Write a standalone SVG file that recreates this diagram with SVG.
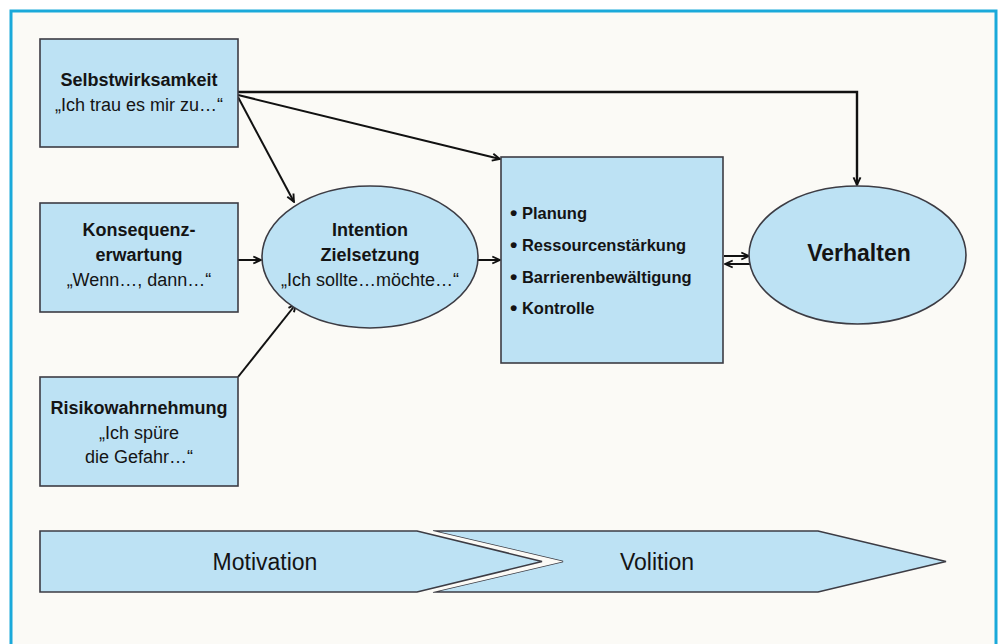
<svg xmlns="http://www.w3.org/2000/svg" width="1003" height="644" viewBox="0 0 1003 644">
<defs>
<style>
.box{fill:#bde2f4;stroke:#3c3c44;stroke-width:1.6}
.t{font-family:"Liberation Sans",Arial,sans-serif;fill:#141414;text-anchor:middle}
.b{font-weight:bold;font-size:18px}
.r{font-size:18px}
.li{font-family:"Liberation Sans",Arial,sans-serif;fill:#141414;font-weight:bold;font-size:16.5px}
.bu{font-size:21px}
.ln{fill:none;stroke:#111;stroke-width:2}
.lnt{fill:none;stroke:#111;stroke-width:2.4}
</style>
<marker id="ah" viewBox="0 0 10 10" refX="9.2" refY="5" markerWidth="10" markerHeight="10" orient="auto" markerUnits="userSpaceOnUse">
<path d="M1.5,1.5 L9,5 L1.5,8.5" fill="none" stroke="#111" stroke-width="1.9"/>
</marker>
</defs>
<rect x="0" y="0" width="1003" height="644" fill="#ffffff"/>
<rect x="11" y="11" width="985" height="650" fill="#fbfaf6" stroke="#1aa9da" stroke-width="3"/>

<g id="connectors">
<polyline class="lnt" points="238,92 857,92 857,185" marker-end="url(#ah)"/>
<line class="ln" x1="238" y1="95" x2="500" y2="159" marker-end="url(#ah)"/>
<line class="ln" x1="238" y1="97" x2="294" y2="202" marker-end="url(#ah)"/>
<line class="ln" x1="238" y1="377" x2="296" y2="304" marker-end="url(#ah)"/>
<line class="ln" x1="238" y1="260" x2="261" y2="260" marker-end="url(#ah)"/>
<line class="ln" x1="478" y1="260" x2="500" y2="260" marker-end="url(#ah)"/>
<line class="ln" x1="724" y1="256" x2="749" y2="256" marker-end="url(#ah)"/>
<line class="ln" x1="750" y1="264" x2="725" y2="264" marker-end="url(#ah)"/>
</g>

<g id="selbstwirksamkeit">
<rect class="box" x="40" y="39" width="198" height="108"/>
<text class="t b" x="139" y="86">Selbstwirksamkeit</text>
<text class="t r" x="139" y="111">„Ich trau es mir zu…“</text>
</g>

<g id="konsequenzerwartung">
<rect class="box" x="40" y="203" width="198" height="109"/>
<text class="t b" x="139" y="236">Konsequenz-</text>
<text class="t b" x="139" y="261">erwartung</text>
<text class="t r" x="139" y="286">„Wenn…, dann…“</text>
</g>

<g id="risikowahrnehmung">
<rect class="box" x="40" y="377" width="198" height="109"/>
<text class="t b" x="139" y="414">Risikowahrnehmung</text>
<text class="t r" x="139" y="439">„Ich spüre</text>
<text class="t r" x="139" y="463">die Gefahr…“</text>
</g>

<g id="intention">
<ellipse class="box" cx="370" cy="257" rx="108" ry="71"/>
<text class="t b" x="370" y="236">Intention</text>
<text class="t b" x="370" y="261">Zielsetzung</text>
<text class="t r" x="370" y="286">„Ich sollte…möchte…“</text>
</g>

<g id="volition-box">
<rect class="box" x="501" y="157" width="222" height="206"/>
<text class="li" x="510" y="219"><tspan class="bu" dy="1.2">•</tspan><tspan dy="-1.2"> Planung</tspan></text>
<text class="li" x="510" y="251"><tspan class="bu" dy="1.2">•</tspan><tspan dy="-1.2"> Ressourcenstärkung</tspan></text>
<text class="li" x="510" y="283"><tspan class="bu" dy="1.2">•</tspan><tspan dy="-1.2"> Barrierenbewältigung</tspan></text>
<text class="li" x="510" y="314"><tspan class="bu" dy="1.2">•</tspan><tspan dy="-1.2"> Kontrolle</tspan></text>
</g>

<g id="verhalten">
<ellipse class="box" cx="857.5" cy="255" rx="108.5" ry="69"/>
<text class="t" x="859" y="261" style="font-weight:bold;font-size:23px">Verhalten</text>
</g>

<g id="volition-arrow">
<polygon class="box" points="433,531 818,531 946,561.5 818,592 433,592 563,561.5"/>
<text class="t" x="657" y="570" style="font-size:23px">Volition</text>
</g>

<g id="motivation-arrow">
<polygon points="417,531 433,531 563,561.5 433,592 417,592 542,561.5" fill="#fbfaf6" stroke="none"/>
<polygon class="box" points="40,531 417,531 542,561.5 417,592 40,592"/>
<text class="t" x="265" y="570" style="font-size:23px">Motivation</text>
</g>
</svg>
